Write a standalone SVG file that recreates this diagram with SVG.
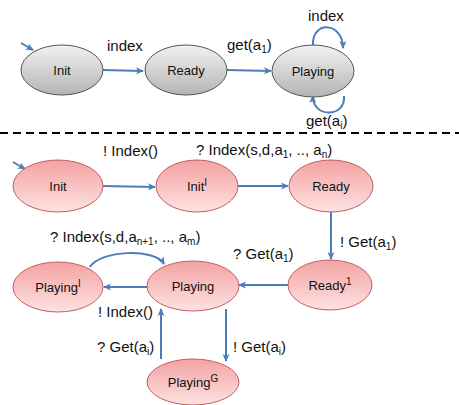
<svg xmlns="http://www.w3.org/2000/svg" width="459" height="405" viewBox="0 0 459 405">
<defs>
<linearGradient id="gGray" x1="0" y1="0" x2="0" y2="1">
<stop offset="0" stop-color="#f2f2f2"/>
<stop offset="1" stop-color="#b4b4b4"/>
</linearGradient>
<linearGradient id="gPink" x1="0" y1="0" x2="0" y2="1">
<stop offset="0" stop-color="#f4a2a2"/>
<stop offset="1" stop-color="#fde2e2"/>
</linearGradient>
<marker id="arr" markerWidth="8" markerHeight="8" refX="7" refY="4" orient="auto" markerUnits="userSpaceOnUse">
<path d="M0,0.5 L8,4 L0,7.5 L2,4 Z" fill="#4a7ebb"/>
</marker>
<style>
.gray{fill:url(#gGray);stroke:#555;stroke-width:1}
.pink{fill:url(#gPink);stroke:#c0605e;stroke-width:1}
.nl{font-family:"Liberation Sans",Arial,sans-serif;font-size:13px;fill:#111;text-anchor:middle}
.el{font-family:"Liberation Sans",Arial,sans-serif;font-size:15px;fill:#111}
.sub{font-size:10px}
.c{fill:none;stroke:#4a7ebb;stroke-width:2;marker-end:url(#arr)}
</style>
</defs>
<line x1="0" y1="133" x2="459" y2="133" stroke="#000" stroke-width="2" stroke-dasharray="8,5"/>
<g id="connectors">
<path class="c" d="M21,43 L33,50"/>
<path class="c" d="M103,70 L143,71"/>
<path class="c" d="M227,70 L271,71"/>
<path class="c" d="M313,45 C312,20 343,22 343,48"/>
<path class="c" d="M344,96 C346,118 312,118 313,96"/>
<path class="c" d="M13,162 L25,169"/>
<path class="c" d="M103,186 L155,187"/>
<path class="c" d="M238,186 L288,186"/>
<path class="c" d="M331,212 L331,259"/>
<path class="c" d="M288,285 L239,285"/>
<path class="c" d="M148,287 L104,287"/>
<path class="c" d="M90,267 C100,250 155,248 164,264"/>
<path class="c" d="M226,309 L226,361"/>
<path class="c" d="M161,359 L161,309"/>
</g>
<g id="labels">
<text class="el" x="107" y="51">index</text>
<text class="el" x="227" y="50">get(a<tspan class="sub" dy="3">1</tspan><tspan dy="-3">)</tspan></text>
<text class="el" x="308" y="21">index</text>
<text class="el" x="306" y="126">get(a<tspan class="sub" dy="3">i</tspan><tspan dy="-3">)</tspan></text>
<text class="el" x="103" y="156">! Index()</text>
<text class="el" x="196" y="155">? Index(s,d,a<tspan class="sub" dy="3">1</tspan><tspan dy="-3">, .., a</tspan><tspan class="sub" dy="3">n</tspan><tspan dy="-3">)</tspan></text>
<text class="el" x="340" y="247">! Get(a<tspan class="sub" dy="3">1</tspan><tspan dy="-3">)</tspan></text>
<text class="el" x="233" y="259">? Get(a<tspan class="sub" dy="3">1</tspan><tspan dy="-3">)</tspan></text>
<text class="el" x="50" y="242">? Index(s,d,a<tspan class="sub" dy="3">n+1</tspan><tspan dy="-3">, .., a</tspan><tspan class="sub" dy="3">m</tspan><tspan dy="-3">)</tspan></text>
<text class="el" x="98" y="317">! Index()</text>
<text class="el" x="97" y="352">? Get(a<tspan class="sub" dy="3">i</tspan><tspan dy="-3">)</tspan></text>
<text class="el" x="233" y="352">! Get(a<tspan class="sub" dy="3">i</tspan><tspan dy="-3">)</tspan></text>
</g>
<g id="initTop"><ellipse class="gray" cx="62" cy="70" rx="41" ry="25"/><text class="nl" x="62" y="75">Init</text></g>
<g id="readyTop"><ellipse class="gray" cx="186" cy="70" rx="41" ry="25"/><text class="nl" x="186" y="75">Ready</text></g>
<g id="playingTop"><ellipse class="gray" cx="313" cy="71" rx="41" ry="26"/><text class="nl" x="313" y="76">Playing</text></g>
<g id="init"><ellipse class="pink" cx="58" cy="186" rx="45" ry="26"/><text class="nl" x="58" y="191">Init</text></g>
<g id="initI"><ellipse class="pink" cx="197" cy="186" rx="41" ry="26"/><text class="nl" x="197" y="191">Init<tspan class="sub" dy="-5">I</tspan></text></g>
<g id="ready"><ellipse class="pink" cx="331" cy="186" rx="42" ry="26"/><text class="nl" x="331" y="191">Ready</text></g>
<g id="ready1"><ellipse class="pink" cx="330" cy="285" rx="42" ry="25"/><text class="nl" x="330" y="290">Ready<tspan class="sub" dy="-5">1</tspan></text></g>
<g id="playing"><ellipse class="pink" cx="193" cy="286" rx="46" ry="25"/><text class="nl" x="193" y="291">Playing</text></g>
<g id="playingI"><ellipse class="pink" cx="58" cy="287" rx="45" ry="25"/><text class="nl" x="58" y="292">Playing<tspan class="sub" dy="-5">I</tspan></text></g>
<g id="playingG"><ellipse class="pink" cx="193" cy="382" rx="46" ry="23"/><text class="nl" x="193" y="387">Playing<tspan class="sub" dy="-5">G</tspan></text></g>
</svg>
